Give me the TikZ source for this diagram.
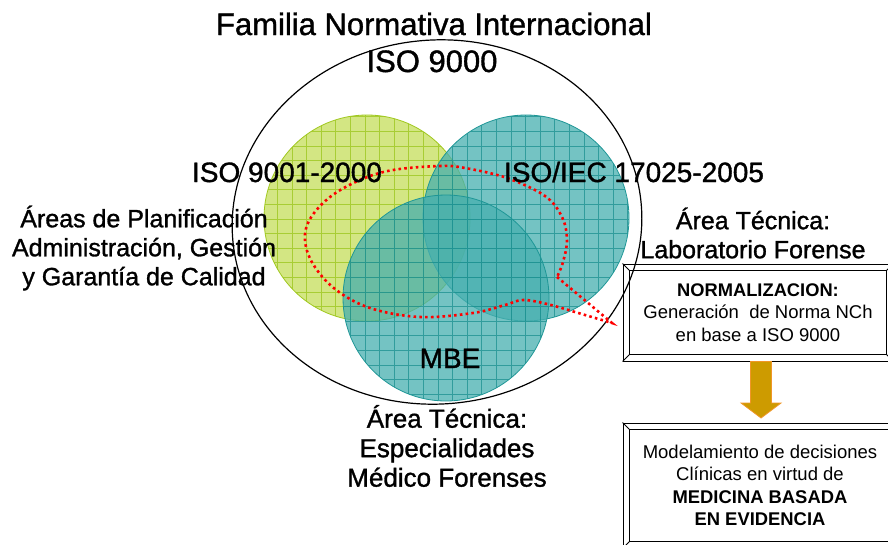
\documentclass[tikz,border=0pt]{standalone}
\usepackage{fontspec}
\setmainfont{Liberation Sans}
\newfontfamily\heavysans[FakeBold=1.2]{Liberation Sans}
\usetikzlibrary{calc}
\definecolor{grfill}{RGB}{196,222,90}
\definecolor{grline}{RGB}{150,195,20}
\definecolor{grout}{RGB}{160,200,30}
\definecolor{tlfill}{RGB}{70,175,175}
\definecolor{tlline}{RGB}{20,140,140}
\definecolor{tlout}{RGB}{30,150,150}
\definecolor{arrfill}{RGB}{205,155,0}
\definecolor{arredge}{RGB}{240,150,40}
\definecolor{dotred}{RGB}{255,0,0}
\tikzset{
  bigtext/.style={inner sep=0pt, font=\heavysans\fontsize{31}{36}\selectfont},
  isotext/.style={inner sep=0pt, font=\heavysans\fontsize{28}{32}\selectfont},
  arealabel/.style={inner sep=0pt, align=center, font=\heavysans\fontsize{25}{29}\selectfont},
  bevelbox/.style={draw, line width=1pt, inner sep=0pt, align=center, font=\fontsize{18.5}{22.3}\selectfont},
  reddots/.style={dotred, line width=2.6pt, dash pattern=on 2.6pt off 3.2pt},
}
\newcommand{\gridcircle}[5]{%
  \begin{scope}
    \clip (#1,#2) circle[radius=#3pt];
    \fill[#4, opacity=0.75] (#1,#2) circle[radius=#3pt];
    \draw[#5, line width=0.7pt, opacity=0.7] (#1-120,#2-120) grid[step=14.6pt] (#1+120,#2+120);
  \end{scope}}
\begin{document}
\begin{tikzpicture}[x=1pt,y=-1pt]
\useasboundingbox (0,0) rectangle (888,544);
\clip (0,0) rectangle (888,544);

% circles
\gridcircle{367}{218}{103}{grfill}{grline}
\draw[grout, line width=0.8pt] (367,218) circle[radius=103pt];
\gridcircle{526}{218}{103}{tlfill}{tlline}
\draw[tlout, line width=0.8pt] (526,218) circle[radius=103pt];
\gridcircle{446}{298}{103}{tlfill}{tlline}
\draw[tlout, line width=0.8pt] (446,298) circle[radius=103pt];

% big ellipse
\draw[black, line width=1.2pt, rotate around={5:(437,222)}] (437,222) ellipse[x radius=205pt, y radius=182pt];

% red dotted callout
\draw[reddots] (557,277) -- (612,323) -- (575,312)
  plot[smooth, tension=0.6] coordinates {(575,312) (547,304) (523,300) (505,305) (473,313) (420,317) (370,308) (335,289) (313,264) (305,240) (310,219) (330,197) (360,180) (393,170) (440,166) (465,168) (507,178) (545,196) (562,217) (567,240) (563,262) (557,277)};

% texts
\node[bigtext, anchor=base] (title) at (434,35) {Familia Normativa Internacional};
\node[bigtext, anchor=base] (iso9000) at (432,72) {ISO 9000};
\node[isotext, anchor=base] (iso9001) at (287,182) {ISO 9001-2000};
\node[isotext, anchor=base] (iso17025) at (634,182) {ISO/IEC 17025-2005};
\node[isotext, anchor=base] (mbe) at (450,368) {MBE};

\node[arealabel] (planif) at (144,248) {Áreas de Planificación\\Administración, Gestión\\y Garantía de Calidad};
\node[arealabel] (labfor) at (753,233) {Área Técnica:\\Laboratorio Forense};
\node[arealabel, font=\heavysans\fontsize{26}{29.5}\selectfont] (medfor) at (447,446) {Área Técnica:\\Especialidades\\Médico Forenses};

% boxes
\node[bevelbox, minimum width=270pt, minimum height=97pt] (norm) at (758,312.5)
  {{\fontsize{18.3}{22}\bfseries NORMALIZACION:}\\Generación\ \ de Norma NCh\\en base a ISO 9000};
\draw[line width=0.8pt] ($(norm.north west)+(7,7)$) rectangle ($(norm.south east)+(-7,-7)$);
\draw[line width=0.8pt] (norm.north west) -- ++(7,7) (norm.south west) -- ++(7,-7)
  (norm.north east) -- ++(-7,7) (norm.south east) -- ++(-7,-7);

\node[bevelbox, minimum width=274pt, minimum height=125pt] (mbebox) at (760,485.5)
  {Modelamiento de decisiones\\Clínicas en virtud de\\{\fontsize{18.4}{22}\bfseries MEDICINA BASADA}\\{\fontsize{18.4}{22}\bfseries EN EVIDENCIA}};
\draw[line width=0.8pt] ($(mbebox.north west)+(7,7)$) rectangle ($(mbebox.south east)+(-7,-7)$);
\draw[line width=0.8pt] (mbebox.north west) -- ++(7,7) (mbebox.south west) -- ++(7,-7)
  (mbebox.north east) -- ++(-7,7) (mbebox.south east) -- ++(-7,-7);

% block arrow
\coordinate (atop) at (norm.south -| 761,0);
\coordinate (atip) at (761,418);
\filldraw[fill=arrfill, draw=arredge, line width=0.8pt]
  ($(atop)+(-10.5,0)$) -- ($(atop)+(10.5,0)$) -- ($(atip)+(10.5,-15)$) -- ($(atip)+(20,-15)$)
  -- (atip) -- ($(atip)+(-20,-15)$) -- ($(atip)+(-10.5,-15)$) -- cycle;
\end{tikzpicture}
\end{document}
